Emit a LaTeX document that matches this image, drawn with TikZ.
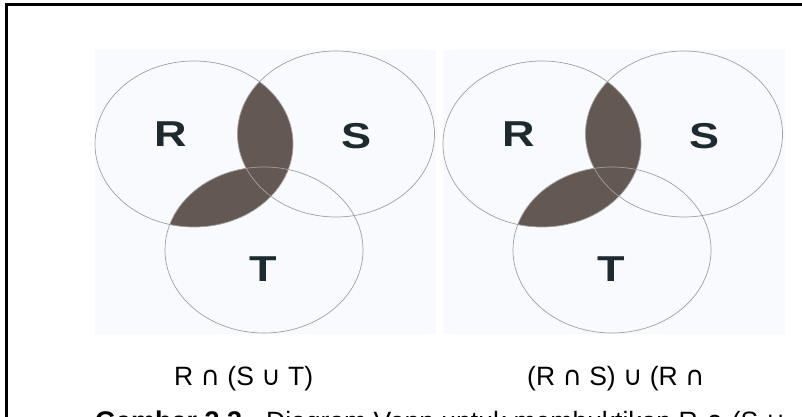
\documentclass[tikz,border=0pt]{standalone}
\usepackage{fontspec}
\setmainfont{Liberation Sans}
\newfontfamily\opsfont{DejaVu Sans}
\newfontfamily\setletterfont[FakeStretch=1.25]{Liberation Sans}
\newcommand{\isect}{{\opsfont ∩}}
\newcommand{\iunion}{{\opsfont ∪}}
\definecolor{panel}{RGB}{249,250,253}
\definecolor{vennline}{RGB}{160,160,160}
\definecolor{lensfill}{RGB}{100,89,82}
\definecolor{labelink}{RGB}{27,43,47}
\begin{document}
\begin{tikzpicture}[x=1pt,y=-1pt,
  venn/.style={draw=vennline, line width=0.7pt},
  lens/.style={fill=lensfill},
  framerule/.style={draw=black, line width=2.7pt},
  setlabel/.style={font={\setletterfont\bfseries\fontsize{36}{36}\selectfont}, text=labelink, inner sep=0pt},
  caption/.style={font={\fontsize{26.5}{30}\selectfont}, inner sep=0pt, anchor=base west}]
\useasboundingbox (0,0) rectangle (802,417);
\clip (0,0) rectangle (802,417);

% light panels behind the two diagrams
\fill[panel] (95,50) rectangle (436,334);
\fill[panel] (443,50) rectangle (785,334);

% two identical Venn diagrams, shaded region R n (S u T)
\foreach \dx/\k in {0/1,348/2}{
  \begin{scope}[xshift=\dx pt]
    \begin{scope}
      \clip (194,144) ellipse [x radius=99pt, y radius=83pt];
      \fill[lens] (336,134) ellipse [x radius=98.5pt, y radius=83pt];
      \fill[lens] (264,250) ellipse [x radius=99pt, y radius=83pt];
    \end{scope}
    \draw[venn] (194,144) ellipse [x radius=99pt, y radius=83pt];
    \draw[venn] (336,134) ellipse [x radius=98.5pt, y radius=83pt];
    \draw[venn] (264,250) ellipse [x radius=99pt, y radius=83pt];
    \node[setlabel] (R\k) at (170.5,134.5) {R};
    \node[setlabel] (S\k) at (356.7,136) {S};
    \node[setlabel] (T\k) at (263.3,269) {T};
  \end{scope}
}

% captions
\node[caption] (capA) at (174,385) {R \isect{} (S \iunion{} T)};
\node[caption] (capB) at (527,385) {(R \isect{} S) \iunion{} (R \isect};
\node[caption, font={\fontsize{27}{30}\selectfont\bfseries}] (figno) at (95,430) {Gambar 3.3};
\node[caption] (figtext) at (266,430) {Diagram Venn untuk membuktikan R \isect{} (S \iunion};

% frame
\draw[framerule] (6,4.6) -- (802,4.6);
\draw[framerule] (6.6,3.3) -- (6.6,417);
\end{tikzpicture}
\end{document}
